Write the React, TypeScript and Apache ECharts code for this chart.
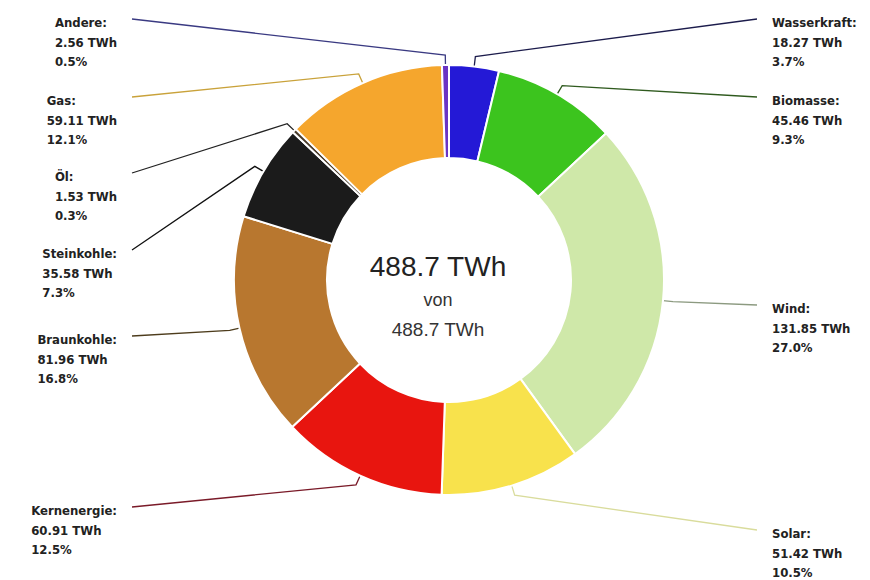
import React, { useEffect, useRef } from "react";
import * as echarts from "echarts";

const categories = ["Wasserkraft", "Biomasse", "Wind", "Solar", "Kernenergie", "Braunkohle", "Steinkohle", "Öl", "Gas", "Andere"];
const valuesTWh = [18.27, 45.46, 131.85, 51.42, 60.91, 81.96, 35.58, 1.53, 59.11, 2.56];
const sliceColors = ["#2419d6", "#3cc41e", "#cfe8a9", "#f8e24c", "#e8150f", "#b8772f", "#1b1b1b", "#4a3c2c", "#f5a62d", "#6b34c4"];
const lineColors = ["#1c1c4c", "#2f5a1e", "#8c9a80", "#d9dc9c", "#7a1a28", "#4d3c1c", "#111111", "#222222", "#c9a23a", "#3a3a82"];
const centerTotalLabel = "488.7 TWh";
const centerOfLabel = "von";

// layout (not data): vertical anchor of each label's leader line end
const labelAnchorY = [19, 97, 305, 530, 507, 336, 250, 173, 97, 19];

const CX = 449;
const CY = 280;
const R_IN = 122;
const R_OUT = 215;
const LEFT_LINE_END = 132;
const RIGHT_LINE_END = 757;
const TEXT_GAP = 15;

export default function App() {
  const ref = useRef<HTMLDivElement>(null);
  useEffect(() => {
    if (!ref.current) return;
    const chart = echarts.init(ref.current, null, { renderer: "svg" });
    const total = valuesTWh.reduce((a, b) => a + b, 0);
    const midAngles: number[] = [];
    let acc = 0;
    valuesTWh.forEach((v) => {
      midAngles.push(((acc + v / 2) / total) * Math.PI * 2);
      acc += v;
    });
    const data = categories.map((name, i) => ({
      name,
      value: valuesTWh[i],
      itemStyle: { color: sliceColors[i] },
      labelLine: { lineStyle: { color: lineColors[i] } },
    }));
    const font = "'DejaVu Sans Condensed', 'DejaVu Sans', Verdana, sans-serif";
    chart.setOption({
      animation: false,
      backgroundColor: "#ffffff",
      series: [
        {
          type: "pie",
          center: [CX, CY],
          radius: [R_IN, R_OUT],
          startAngle: 90,
          clockwise: true,
          avoidLabelOverlap: false,
          percentPrecision: 2,
          itemStyle: { borderColor: "#ffffff", borderWidth: 2 },
          label: {
            show: true,
            position: "outer",
            overflow: "none",
            formatter: (p: any) =>
              `{n|${p.name}:}\n{n|${Number(p.value).toFixed(2)} TWh}\n{n|${p.percent.toFixed(1)}%}`,
            rich: {
              n: {
                fontFamily: font,
                fontSize: 13,
                fontWeight: "bold",
                lineHeight: 19.5,
                color: "#222222",
                align: "left",
              },
            },
          },
          labelLine: { show: true, length: 10, length2: 60, lineStyle: { width: 1.3 } },
          labelLayout: (params: any) => {
            const i = params.dataIndex;
            const a = midAngles[i];
            const sx = Math.sin(a);
            const sy = -Math.cos(a);
            const isRight = sx > 0;
            const yEnd = labelAnchorY[i];
            const p0 = [CX + R_OUT * sx, CY + R_OUT * sy];
            const p1 = [CX + (R_OUT + 10) * sx, CY + (R_OUT + 10) * sy];
            const xEnd = isRight ? RIGHT_LINE_END : LEFT_LINE_END;
            return {
              x: isRight ? xEnd + TEXT_GAP : xEnd - TEXT_GAP,
              y: yEnd - 6,
              align: isRight ? "left" : "right",
              verticalAlign: "top",
              labelLinePoints: [p0, p1, [xEnd, yEnd]],
            };
          },
          emphasis: { disabled: true },
          data,
        },
      ],
      graphic: [
        {
          type: "text",
          x: 438,
          y: 266,
          style: {
            text: centerTotalLabel,
            fontFamily: "'Liberation Sans', Arial, sans-serif",
            fontSize: 28,
            fill: "#222222",
            textAlign: "center",
            textVerticalAlign: "middle",
          },
        },
        {
          type: "text",
          x: 438,
          y: 300,
          style: {
            text: centerOfLabel,
            fontFamily: "'Liberation Sans', Arial, sans-serif",
            fontSize: 18,
            fill: "#333333",
            textAlign: "center",
            textVerticalAlign: "middle",
          },
        },
        {
          type: "text",
          x: 438,
          y: 329,
          style: {
            text: centerTotalLabel,
            fontFamily: "'Liberation Sans', Arial, sans-serif",
            fontSize: 19,
            fill: "#333333",
            textAlign: "center",
            textVerticalAlign: "middle",
          },
        },
      ],
    });
    return () => chart.dispose();
  }, []);
  return (
    <div
      ref={ref}
      style={{ position: "fixed", left: 0, top: 0, width: 870, height: 580 }}
    />
  );
}
